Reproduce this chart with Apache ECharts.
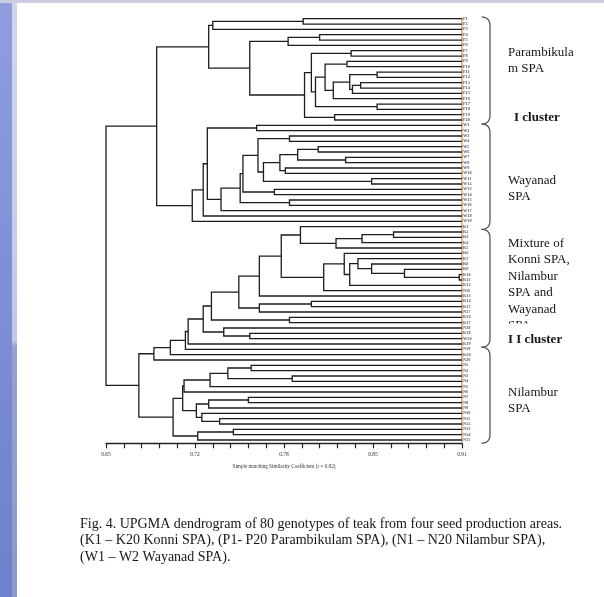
<!DOCTYPE html>
<html><head><meta charset="utf-8">
<script src="https://cdn.jsdelivr.net/npm/echarts@6/dist/echarts.min.js"></script>
<style>
html,body{margin:0;padding:0;background:#fff;width:604px;height:597px;overflow:hidden}
#chart{position:absolute;left:0;top:0;width:604px;height:597px}
.strip{position:absolute;left:0;top:0;width:12px;height:597px;background:linear-gradient(#909ede,#7c8dd6 55%,#6f80cc)}
.strip2{position:absolute;left:12px;top:0;width:5px;height:597px;background:linear-gradient(#d2d6e8,#c3c9e2 57%,#97a2cc 58%,#8e99c6)}
.topband{position:absolute;left:0;top:0;width:604px;height:3px;background:#c9cddd}
</style></head>
<body>
<div id="chart"></div>
<div class="strip"></div><div class="strip2"></div><div class="topband"></div>
<script>
// ---------- DATA ----------
const leafNames = [
 'P1','P2','P3','P4','P5','P6','P7','P8','P9','P10','P11','P12','P13','P14','P15','P16','P17','P18','P19','P20',
 'W1','W2','W3','W4','W5','W6','W7','W8','W9','W10','W11','W12','W13','W14','W15','W16','W17','W18','W19',
 'K1','K2','K3','K4','K5','K6','K7','K8','K9','K10','K11','K12','N16','K13','K14','K15','N17','K16','K17','N18','K18','W20','K19','N19','K20','N20',
 'N1','N2','N3','N4','N5','N6','N7','N8','N9','N10','N11','N12','N13','N14','N15'
];
// merge nodes: [left, right, similarity]; a number is a leaf index (display order)
const pA = [[0,1,0.794],2,0.728];
const pB = [[3,4,0.806],5,0.783];
const pC = [[10,11,0.848],[[12,13,0.836],14,0.830],0.828];
const pD = [[8,9,0.826],[pC,15,0.816],0.810];
const pE = [[6,7,0.829],[pD,[16,17,0.848],0.803],0.800];
const parambikulam = [pA,[pB,[pE,[18,19,0.817],0.795],0.755],0.725];

const wA = [[[24,25,0.805],[26,27,0.825],0.790],[28,29,0.781],0.777];
const wB = [[22,23,0.784],[wA,[30,31,0.844],0.765],0.761];
const wC = [[[wB,[32,33,0.773],0.750],[34,35,0.784],0.748],36,0.734];
const wayanad = [[[[20,21,0.760],wC,0.724],37,0.721],38,0.713];

const mA = [39,[[[40,41,0.860],42,0.837],43,0.818],0.792];
const mB = [44,[[45,[46,[47,[48,49,0.908],0.868],0.844],0.834],50,0.828],0.824];
const mC = [[[mA,[mB,51,0.809],0.778],52,0.762],[[53,54,0.800],55,0.762],0.747];
const mD = [[mC,[56,57,0.784],0.727],[58,[59,60,0.755],0.736],0.721];
const mixture = [[[[mD,61,0.710],62,0.708],63,0.697],64,0.685];

const nA = [[[[65,66,0.756],[67,68,0.786],0.739],69,0.726],70,0.707];
const nB = [[[71,72,0.754],73,0.725],[74,[75,76,0.733],0.720],0.716];
const nilambur = [[nA,nB,0.706],[[77,78,0.743],79,0.717],0.699];

const clusterI = [parambikulam, wayanad, 0.687];
const clusterII = [mixture, nilambur, 0.674];
const rootNode = [clusterI, clusterII, 0.650];

const axisMin = 0.65, axisMax = 0.91, axisStep = 0.065;
const tickLabels = ['0.65','0.72','0.78','0.85','0.91'];
const axisTitle = 'Simple matching Similarity Coefficient (r = 0.82)';

const groupLabels = ['Parambikula\nm SPA','Wayanad\nSPA','Mixture of\nKonni SPA,\nNilambur\nSPA and\nWayanad\nSPA','Nilambur\nSPA'];
const clusterLabels = ['I cluster','I I cluster'];
const caption = ['Fig. 4. UPGMA dendrogram of 80 genotypes of teak from four seed production areas.',
 '(K1 \u2013 K20 Konni SPA), (P1- P20 Parambikulam SPA), (N1 \u2013 N20 Nilambur SPA),',
 '(W1 \u2013 W2 Wayanad SPA).'];
// bracket limits in leaf units (as drawn in the figure)
const bracketBounds = [-0.32, 19.75, 39.5, 61.6, 79.6];

// ---------- LAYOUT ----------
const segs = [];
function walk(node){
  if (typeof node === 'number') return {x: axisMax, y: node};
  const a = walk(node[0]), b = walk(node[1]), h = node[2];
  segs.push({coords: [[a.x,a.y],[h,a.y],[h,b.y],[b.x,b.y]]});
  return {x: h, y: (a.y + b.y) / 2};
}
walk(rootNode);

const chart = echarts.init(document.getElementById('chart'), null, {renderer:'canvas'});
const serif = '"Liberation Serif","DejaVu Serif",serif';
chart.setOption({
  animation: false,
  grid: {left: 106, right: 142, top: 18.7, bottom: 153.7},
  xAxis: {
    type: 'value', min: axisMin, max: axisMax, interval: axisStep,
    axisLine: {show: true, onZero: false, lineStyle: {color: '#222', width: 1.3}},
    axisTick: {show: true, length: 5, lineStyle: {color: '#222', width: 1.2}},
    minorTick: {show: true, splitNumber: 5, length: 5, lineStyle: {color: '#222', width: 1.2}},
    splitLine: {show: false},
    axisLabel: {formatter: v => tickLabels[Math.round((v - axisMin) / axisStep)], fontSize: 5.5, color: '#333', margin: 8, fontFamily: serif},
    name: axisTitle, nameLocation: 'middle', nameGap: 21,
    nameTextStyle: {fontSize: 5.2, color: '#333', fontFamily: serif}
  },
  yAxis: {type: 'value', inverse: true, min: 0, max: 79.62, show: false},
  series: [
    {type: 'lines', coordinateSystem: 'cartesian2d', polyline: true, silent: true, z: 1,
     data: [{coords: [[axisMax, -0.4], [axisMax, 79.45]]}],
     lineStyle: {color: '#d9a866', width: 1.6, opacity: 1}},
    {type: 'lines', coordinateSystem: 'cartesian2d', polyline: true, silent: true, z: 3,
     data: segs, lineStyle: {color: '#1d1d1d', width: 1.3, opacity: 1}},
    {type: 'scatter', symbolSize: 0, silent: true, z: 4,
     data: leafNames.map((n, i) => ({name: n, value: [axisMax, i]})),
     label: {show: true, position: 'right', distance: 1, formatter: '{b}', fontSize: 4.3, fontWeight: 'bold', color: '#1b2748', fontFamily: serif}}
  ]
});

// ---------- DECORATIONS (brackets, group texts, caption) ----------
const py = v => chart.convertToPixel({gridIndex: 0}, [axisMax, v])[1];
const graphics = [];
const bx = 490, hx = 481.5, hr = 9;
function quad(p0, c, p1, pts){
  for (let t = 0; t <= 1.0001; t += 0.125) {
    const u = 1 - t;
    pts.push([u*u*p0[0] + 2*u*t*c[0] + t*t*p1[0], u*u*p0[1] + 2*u*t*c[1] + t*t*p1[1]]);
  }
}
for (let i = 0; i < bracketBounds.length - 1; i++) {
  const ya = py(bracketBounds[i]), yb = py(bracketBounds[i + 1]);
  const pts = [];
  quad([hx, ya], [bx, ya], [bx, ya + hr], pts);
  quad([bx, yb - hr], [bx, yb], [hx, yb], pts);
  graphics.push({type: 'polyline', silent: true, z: 10, shape: {points: pts},
    style: {stroke: '#4a4a4a', lineWidth: 1.2, fill: null}});
}
const lab = (text, x, y, bold) => ({type: 'text', silent: true, x: x, y: y, z: 10,
  style: {text: text, fill: '#151515', font: (bold ? 'bold ' : '') + '13px ' + serif, lineHeight: 16.5, verticalAlign: 'top', align: 'left'}});
graphics.push(lab(groupLabels[0], 508, 44));
graphics.push(lab(clusterLabels[0], 514, 109, true));
graphics.push(lab(groupLabels[1], 508, 172));
graphics.push(lab(groupLabels[2], 508, 235));
graphics.push({type: 'rect', silent: true, z: 11, shape: {x: 500, y: 323.5, width: 80, height: 8}, style: {fill: '#fff'}});
graphics.push(lab(clusterLabels[1], 508, 331, true));
graphics.push(lab(groupLabels[3], 508, 384));
caption.forEach((t, i) => graphics.push({type: 'text', silent: true, x: 80, y: 524 + i * 16.5, z: 10,
  style: {text: t, fill: '#161616', font: '14px ' + serif, verticalAlign: 'middle', align: 'left'}}));
chart.setOption({graphic: graphics});
</script>
</body></html>
